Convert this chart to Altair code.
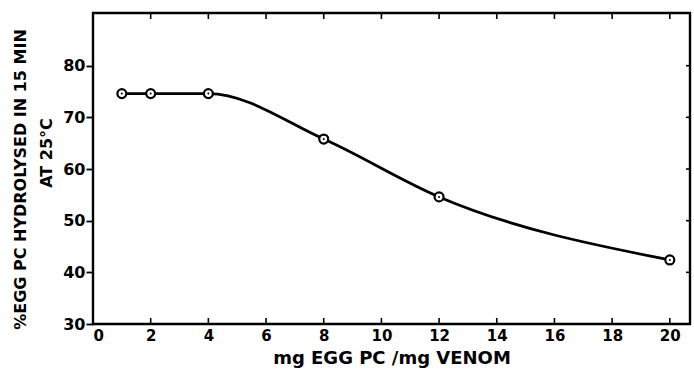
import altair as alt
import pandas as pd

# data
x_vals = [1, 2, 4, 8, 12, 20]
y_vals = [74.6, 74.6, 74.6, 65.8, 54.6, 42.4]

x_ticks = [0, 2, 4, 6, 8, 10, 12, 14, 16, 18, 20]
y_ticks = [30, 40, 50, 60, 70, 80]

y_title_1 = "%EGG PC HYDROLYSED IN 15 MIN"
y_title_2 = ["AT 25°C"]

df = pd.DataFrame({"x": x_vals, "y": y_vals})
xt = pd.DataFrame({"x": x_ticks[1:]})
yt = pd.DataFrame({"y": y_ticks[1:]})
t2 = pd.DataFrame({"t": y_title_2})

W, H = 597, 311
FONT = "DejaVu Sans"

xs = alt.Scale(domain=[0, 20.7], nice=False, zero=False)
ys = alt.Scale(domain=[30, 90.2], nice=False, zero=False)

base = alt.Chart(df)

line = base.mark_line(color="black", strokeWidth=2.8, interpolate="monotone").encode(
    x=alt.X("x:Q", scale=xs,
            axis=alt.Axis(values=x_ticks, title="mg EGG PC /mg VENOM", grid=False,
                          domain=False, ticks=False, labelPadding=4,
                          labelFont=FONT, labelFontSize=15, labelFontWeight="bold",
                          labelColor="black",
                          titleFont=FONT, titleFontSize=18, titleFontWeight="bold",
                          titleColor="black", titlePadding=6)),
    y=alt.Y("y:Q", scale=ys,
            axis=alt.Axis(values=y_ticks, title=y_title_1,
                          grid=False, domain=False, ticks=True, tickSize=7,
                          tickColor="black", tickWidth=1.8, labelPadding=1,
                          labelFont=FONT, labelFontSize=16, labelFontWeight="bold",
                          labelColor="black",
                          titleFont=FONT, titleFontSize=16, titleFontWeight="bold",
                          titleColor="black", titleBaseline="middle",
                          titleX=-73, titleY=166)),
)

sub = alt.Chart(t2).mark_text(angle=270, font=FONT, fontSize=16, fontWeight="bold",
                              color="black", align="center", baseline="middle").encode(
    text="t:N", x=alt.value(-46), y=alt.value(140))

pts = base.mark_point(shape="circle", filled=True, fill="white", stroke="black",
                      strokeWidth=2.2, size=80, opacity=1).encode(
    x=alt.X("x:Q", scale=xs), y=alt.Y("y:Q", scale=ys))
dots = base.mark_point(shape="circle", filled=True, color="black", size=4, opacity=1).encode(
    x=alt.X("x:Q", scale=xs), y=alt.Y("y:Q", scale=ys))

bot_ticks = alt.Chart(xt).mark_rule(color="black", strokeWidth=1.6).encode(
    x=alt.X("x:Q", scale=xs), y=alt.value(H), y2=alt.value(H - 6))
top_ticks = alt.Chart(xt).mark_rule(color="black", strokeWidth=1.6).encode(
    x=alt.X("x:Q", scale=xs), y=alt.value(0), y2=alt.value(6))
right_ticks = alt.Chart(yt).mark_rule(color="black", strokeWidth=1.6).encode(
    y=alt.Y("y:Q", scale=ys), x=alt.value(W), x2=alt.value(W - 4))

chart = alt.layer(line, bot_ticks, top_ticks, right_ticks, pts, dots, sub).properties(
    width=W, height=H,
    background="white",
    autosize=alt.AutoSizeParams(type="none"),
    padding={"left": 93, "top": 13, "right": 4, "bottom": 49},
).configure_view(stroke="black", strokeWidth=2.4)

chart.save("out.html", embed_options={"renderer": "svg", "actions": False})
